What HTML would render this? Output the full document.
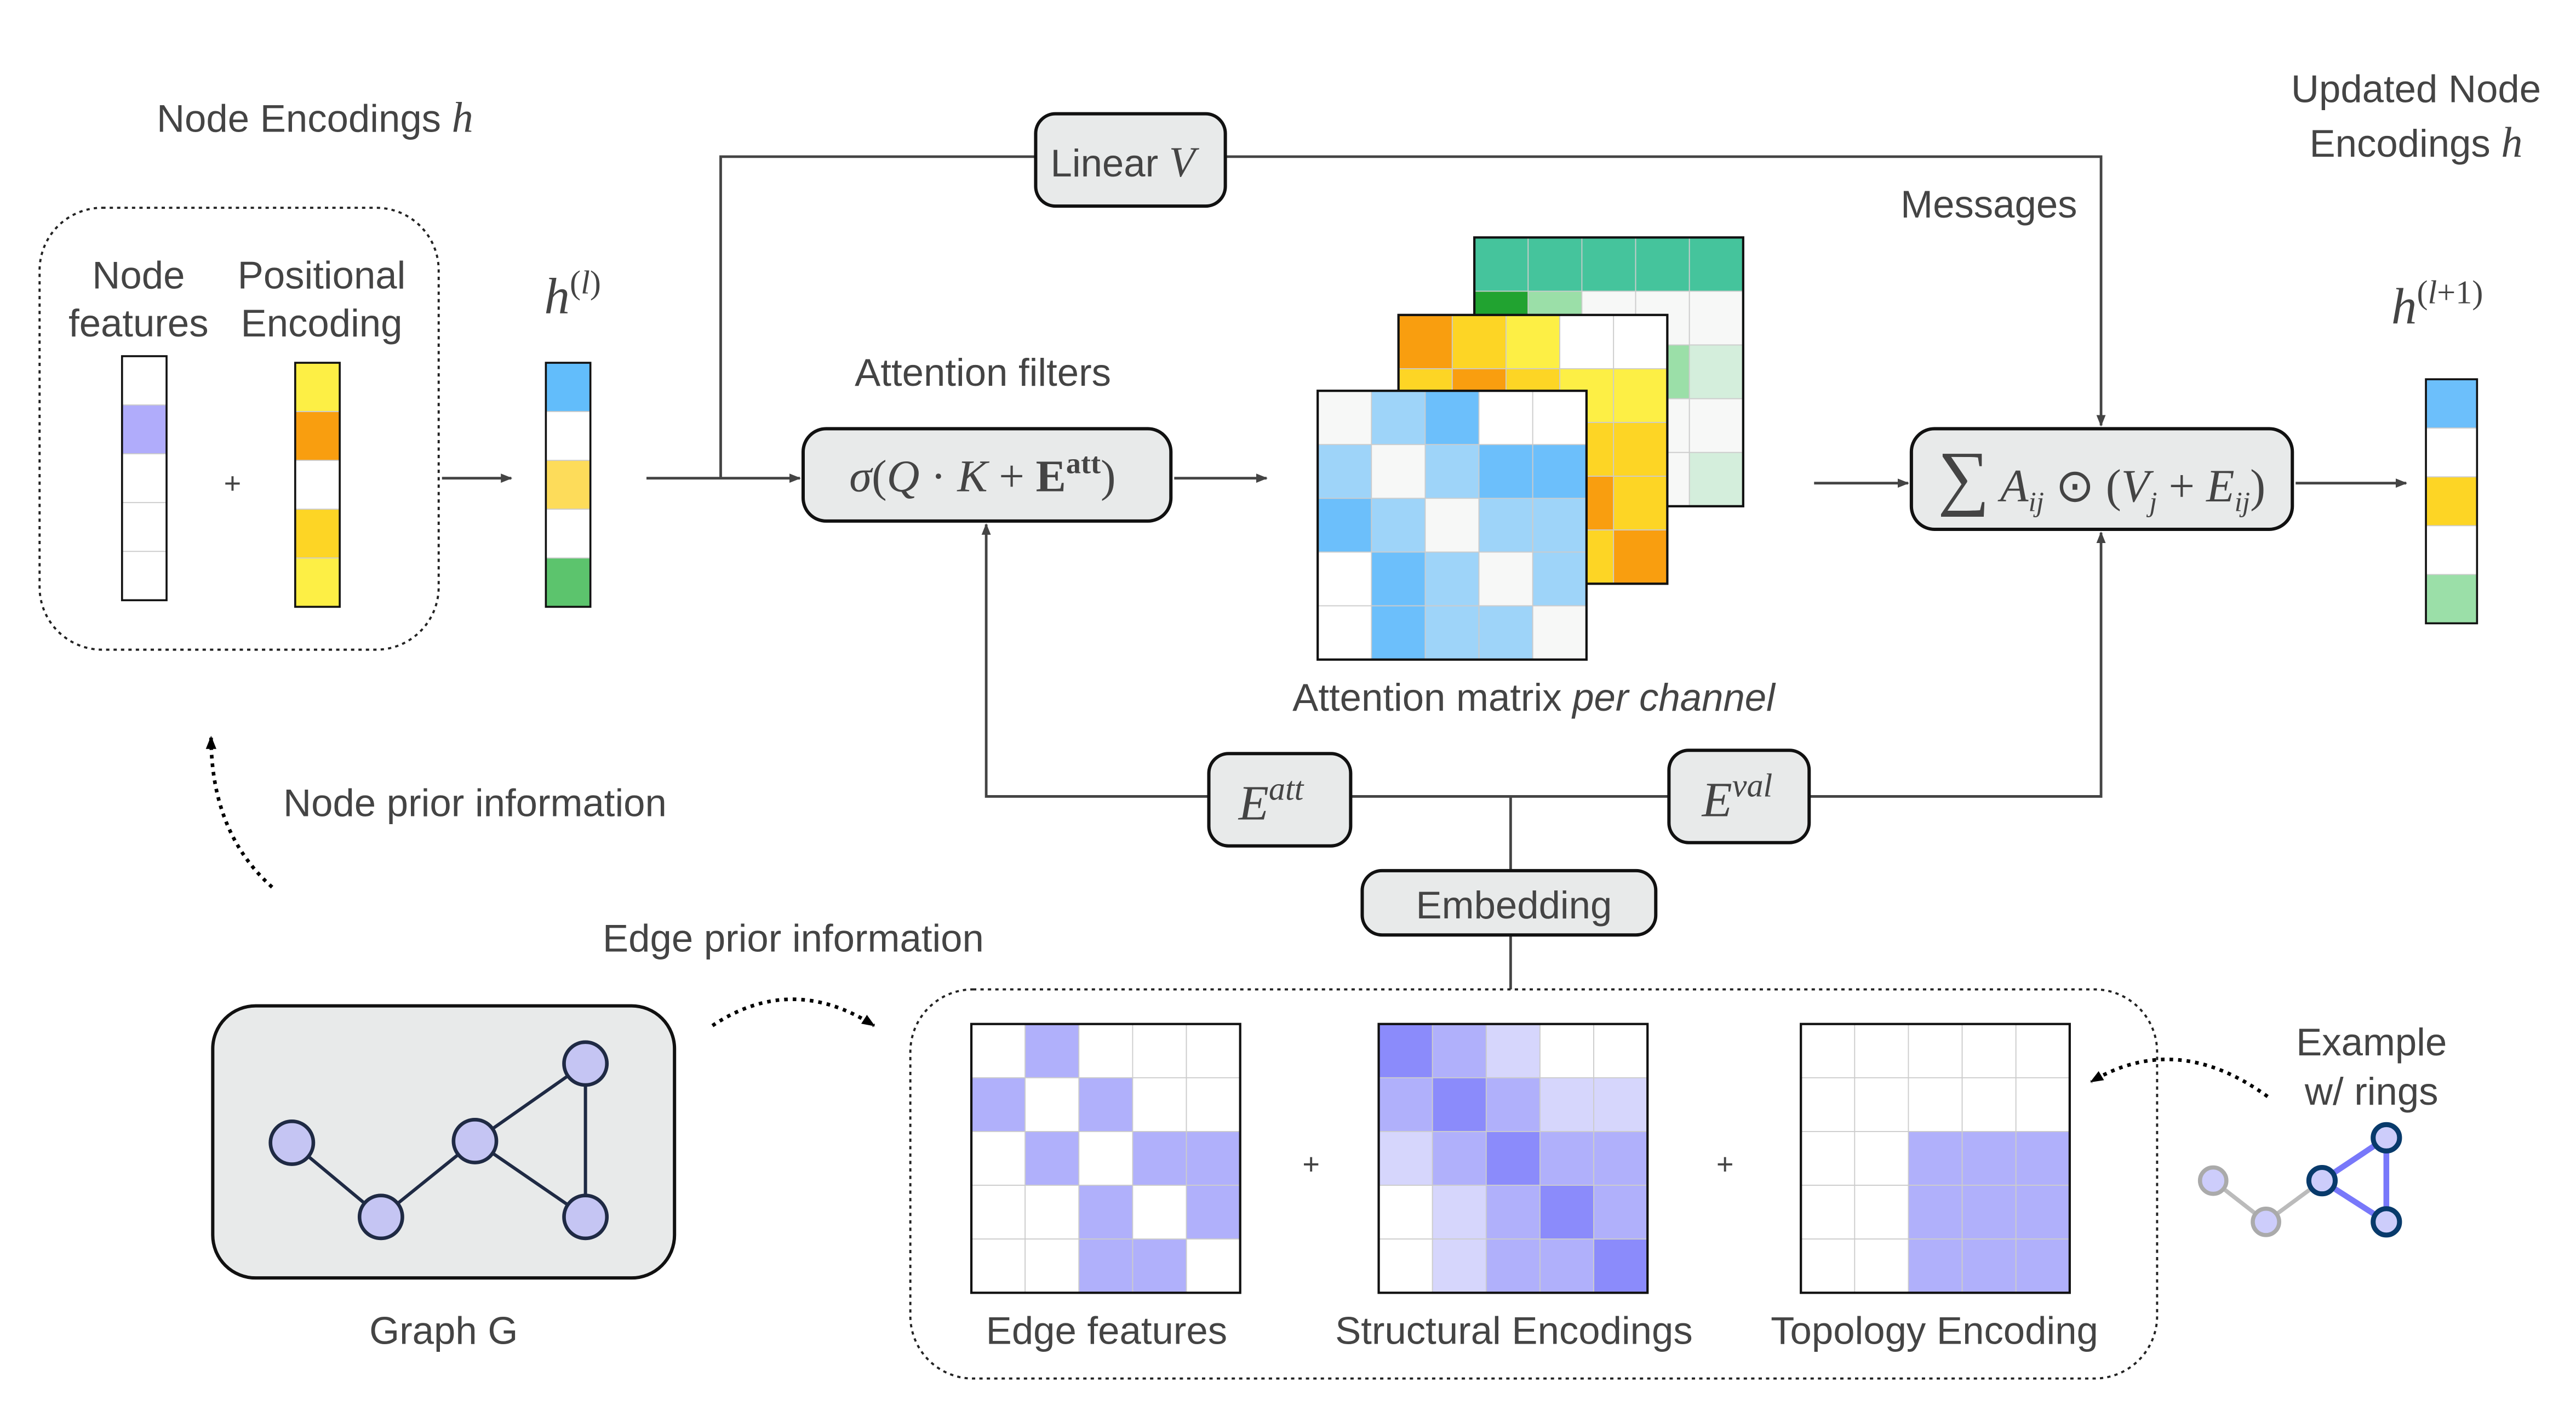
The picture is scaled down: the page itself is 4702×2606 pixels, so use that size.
<!DOCTYPE html>
<html><head><meta charset="utf-8"><style>
html,body{margin:0;padding:0;background:#fff;}
svg{display:block}
text{font-family:"Liberation Sans",sans-serif;fill:#444;}
.m{font-family:"Liberation Serif",serif;font-style:italic;fill:#444;}
</style></head><body>
<svg id="s" width="4702" height="2606" viewBox="0 0 1562 866" preserveAspectRatio="none" xmlns="http://www.w3.org/2000/svg">
<defs>
<marker id="a" viewBox="0 0 10 10" refX="9" refY="5" markerWidth="7" markerHeight="7" orient="auto-start-reverse" markerUnits="userSpaceOnUse"><path d="M0,1 L10,5 L0,9 z" fill="#444"/></marker>
<marker id="b" viewBox="0 0 10 10" refX="9" refY="5" markerWidth="8" markerHeight="8" orient="auto" markerUnits="userSpaceOnUse"><path d="M0,1 L10,5 L0,9 z" fill="#000"/></marker>
</defs>

<g stroke="#444" stroke-width="1.6" fill="none">
<line x1="268" y1="290" x2="310" y2="290" marker-end="url(#a)"/>
<line x1="392" y1="290" x2="485" y2="290" marker-end="url(#a)"/>
<polyline points="437,290 437,95 628,95"/>
<polyline points="743,95 1274,95 1274,258" marker-end="url(#a)"/>
<line x1="712" y1="290" x2="768" y2="290" marker-end="url(#a)"/>
<line x1="1100" y1="293" x2="1157" y2="293" marker-end="url(#a)"/>
<line x1="1392" y1="293" x2="1459" y2="293" marker-end="url(#a)"/>
<polyline points="733,483 598,483 598,318" marker-end="url(#a)"/>
<line x1="819" y1="483" x2="1012" y2="483"/>
<polyline points="1097,483 1274,483 1274,323" marker-end="url(#a)"/>
<line x1="916" y1="483" x2="916" y2="528"/>
<line x1="916" y1="567" x2="916" y2="600"/>
</g>

<rect x="24" y="126" width="242" height="268" rx="38" fill="none" stroke="#222" stroke-width="1.3" stroke-dasharray="2,2.5"/>
<rect x="552" y="600" width="756" height="236" rx="38" fill="none" stroke="#222" stroke-width="1.3" stroke-dasharray="2,2.5"/>

<g stroke="#000" stroke-width="2.2" fill="none" stroke-dasharray="2.2,3">
<path d="M165,538 Q128,505 128,447" marker-end="url(#b)"/>
<path d="M432,622 Q480,590 530,622" marker-end="url(#b)"/>
<path d="M1375,665 Q1320,625 1268,656" marker-end="url(#b)"/>
</g>

<g fill="#e8eaea" stroke="#111" stroke-width="2">
<rect x="628" y="69" width="115" height="56" rx="12"/>
<rect x="487" y="260" width="223" height="56" rx="14"/>
<rect x="1159" y="260" width="231" height="61" rx="14"/>
<rect x="733" y="457" width="86" height="56" rx="12"/>
<rect x="1012" y="455" width="85" height="56" rx="12"/>
<rect x="826" y="528" width="178" height="39" rx="12"/>
<rect x="129" y="610" width="280" height="165" rx="26"/>
</g>

<g id="cells"></g>

<g stroke="#1f2a44" stroke-width="2">
<line x1="177" y1="693" x2="231" y2="738"/><line x1="231" y1="738" x2="288" y2="692"/>
<line x1="288" y1="692" x2="355" y2="645"/><line x1="288" y1="692" x2="355" y2="738"/>
<line x1="355" y1="645" x2="355" y2="738"/>
<g fill="#c5c5f3" stroke-width="2.2">
<circle cx="177" cy="693" r="13"/><circle cx="231" cy="738" r="13"/><circle cx="288" cy="692" r="13"/><circle cx="355" cy="645" r="13"/><circle cx="355" cy="738" r="13"/>
</g></g>

<g stroke-width="2.5">
<line x1="1342" y1="716" x2="1374" y2="741" stroke="#bbb"/>
<line x1="1374" y1="741" x2="1408" y2="716" stroke="#bbb"/>
<line x1="1408" y1="716" x2="1447" y2="690" stroke="#7878fa" stroke-width="3.5"/>
<line x1="1408" y1="716" x2="1447" y2="741" stroke="#7878fa" stroke-width="3.5"/>
<line x1="1447" y1="690" x2="1447" y2="741" stroke="#7878fa" stroke-width="3.5"/>
<circle cx="1342" cy="716" r="8" fill="#cdcdfb" stroke="#aaa"/>
<circle cx="1374" cy="741" r="8" fill="#cdcdfb" stroke="#aaa"/>
<circle cx="1408" cy="716" r="8" fill="#cdcdfb" stroke="#083a6b" stroke-width="3"/>
<circle cx="1447" cy="690" r="8" fill="#cdcdfb" stroke="#083a6b" stroke-width="3"/>
<circle cx="1447" cy="741" r="8" fill="#cdcdfb" stroke="#083a6b" stroke-width="3"/>
</g>

<text x="141" y="299" font-size="18" text-anchor="middle">+</text>
<text x="795" y="712" font-size="18" text-anchor="middle">+</text>
<text x="1046" y="712" font-size="18" text-anchor="middle">+</text>

<g font-size="23.5">
<text x="95" y="80">Node Encodings <tspan class="m" font-size="26">h</tspan></text>
<text x="84" y="175" text-anchor="middle">Node</text>
<text x="84" y="204" text-anchor="middle">features</text>
<text x="195" y="175" text-anchor="middle">Positional</text>
<text x="195" y="204" text-anchor="middle">Encoding</text>
<text x="1465" y="62" text-anchor="middle">Updated Node</text>
<text x="1465" y="95" text-anchor="middle">Encodings <tspan class="m" font-size="26">h</tspan></text>
<text x="1206" y="132" text-anchor="middle">Messages</text>
<text x="596" y="234" text-anchor="middle">Attention filters</text>
<text x="930" y="431" text-anchor="middle">Attention matrix <tspan font-style="italic">per channel</tspan></text>
<text x="288" y="495" text-anchor="middle">Node prior information</text>
<text x="481" y="577" text-anchor="middle">Edge prior information</text>
<text x="918" y="557" text-anchor="middle">Embedding</text>
<text x="269" y="815" text-anchor="middle">Graph G</text>
<text x="671" y="815" text-anchor="middle">Edge features</text>
<text x="918" y="815" text-anchor="middle">Structural Encodings</text>
<text x="1173" y="815" text-anchor="middle">Topology Encoding</text>
<text x="1438" y="640" text-anchor="middle">Example</text>
<text x="1438" y="670" text-anchor="middle">w/ rings</text>
<text x="637" y="107">Linear <tspan class="m" font-size="26">V</tspan></text>
</g>
<text class="m" x="330" y="190" font-size="31">h<tspan font-style="normal" font-size="20" dy="-12">(</tspan><tspan font-size="20">l</tspan><tspan font-style="normal" font-size="20">)</tspan></text>
<text class="m" x="1450" y="196" font-size="31">h<tspan font-style="normal" font-size="20" dy="-12">(</tspan><tspan font-size="20">l</tspan><tspan font-style="normal" font-size="20">+1)</tspan></text>
<text class="m" x="515" y="298" font-size="27.5">σ<tspan font-style="normal">(</tspan>Q <tspan font-style="normal">·</tspan> K <tspan font-style="normal">+</tspan> <tspan font-style="normal" font-weight="bold">E</tspan><tspan font-style="normal" font-weight="bold" font-size="18" dy="-11">att</tspan><tspan font-style="normal" dy="11">)</tspan></text>
<text class="m" x="1175" y="304" font-size="28"><tspan font-style="normal" font-size="44">∑</tspan> A<tspan font-size="17" dy="6">ij</tspan><tspan font-style="normal" dy="-6"> ⊙ (</tspan>V<tspan font-size="17" dy="6">j</tspan><tspan font-style="normal" dy="-6"> + </tspan>E<tspan font-size="17" dy="6">ij</tspan><tspan font-style="normal" dy="-6">)</tspan></text>
<text class="m" x="751" y="497" font-size="30">E<tspan font-size="20" dy="-12">att</tspan></text>
<text class="m" x="1032" y="495" font-size="30">E<tspan font-size="20" dy="-12">val</tspan></text>
</svg>
<script>
var g=document.getElementById('cells'),NS='http://www.w3.org/2000/svg';
function R(x,y,w,h,f,s,sw){var r=document.createElementNS(NS,'rect');r.setAttribute('x',x);r.setAttribute('y',y);r.setAttribute('width',w);r.setAttribute('height',h);r.setAttribute('fill',f);r.setAttribute('stroke',s);r.setAttribute('stroke-width',sw);g.appendChild(r);}
function M(x,y,sz,rows,C){var c=sz/5;for(var i=0;i<5;i++)for(var j=0;j<5;j++)R(x+j*c,y+i*c,c,c,C[rows[i][j]],'#ccc',0.6);R(x,y,sz,sz,'none','#111',1.4);}
function V(x,y,w,h,cols){var c=h/cols.length;for(var i=0;i<cols.length;i++)R(x,y+i*c,w,c,cols[i],'#ccc',0.6);R(x,y,w,h,'none','#111',1.2);}
V(74,216,27,148,['#fff','#b0acfb','#fff','#fff','#fff']);
V(179,220,27,148,['#fdef45','#f99e0f','#fff','#fdd525','#fdef45']);
V(331,220,27,148,['#62bdfb','#fff','#fddc5a','#fff','#5cc46d']);
V(1471,230,31,148,['#6cbffb','#fff','#fdd525','#fff','#9bdfa8']);
var GC={t:'#45c49c',g:'#21a330',l:'#9bdfa8',p:'#d4eedc',o:'#f7f8f7',w:'#fff'};
M(894,144,163,['ttttt','glooo','ooolp','ooooo','ooxop'.replace('x','o')],GC);
var YC={O:'#f99e0f',G:'#fdd525',Y:'#fdef45',w:'#fff'};
M(848,191,163,['OGYww','GOGYY','GGYGG','YGGOG','GYGGO'],YC);
var BC={o:'#f7f8f7',l:'#9ed4f9',d:'#6cbffb',w:'#fff'};
M(799,237,163,['oldww','loldd','dloll','wdlol','wdllo'],BC);
var PC={w:'#fff',m:'#b0b0fb',d:'#8b8bfb',l:'#d6d6fc'};
M(589,621,163,['wmwww','mwmww','wmwmm','wwmwm','wwmmw'],PC);
M(836,621,163,['dmlww','mdmll','lmdmm','wlmdm','wlmmd'],PC);
M(1092,621,163,['wwwww','wwwww','wwmmm','wwmmm','wwmmm'],PC);
</script>
</body></html>
